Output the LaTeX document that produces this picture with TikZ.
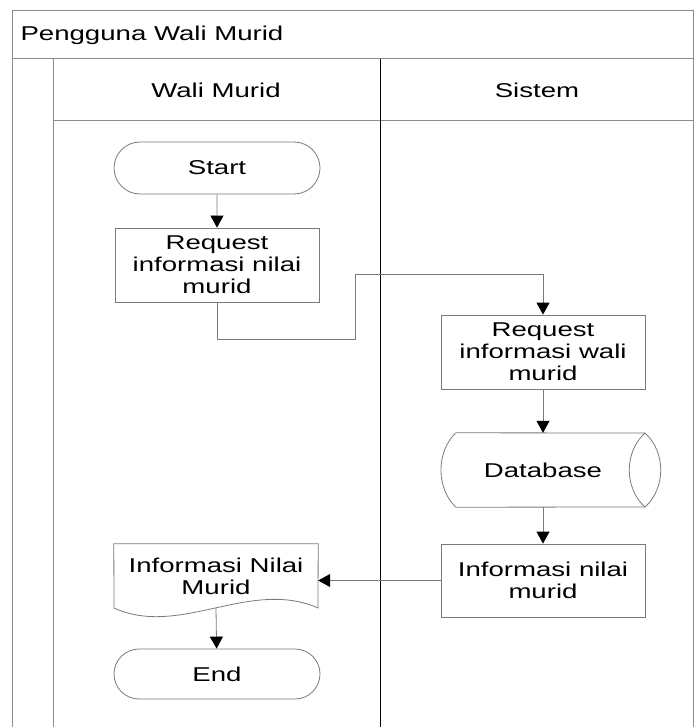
\documentclass[tikz,border=0pt]{standalone}
\usepackage{fontspec}
\setmainfont{Liberation Sans}[FakeStretch=1.38]
\usetikzlibrary{arrows.meta,shapes.misc}

\definecolor{edge}{HTML}{7A7A7A}
\definecolor{frame}{HTML}{8C8C8C}

\tikzset{
  lbl/.style={font=\fontsize{20}{22}\selectfont, align=center, text=black},
  procbox/.style={lbl, draw=edge, line width=0.8pt, fill=white,
    minimum width=204pt, minimum height=74pt, inner sep=0pt},
  terminal/.style={lbl, rounded rectangle, draw=edge, line width=0.8pt,
    minimum width=206pt, minimum height=52pt, inner sep=0pt},
  ghost/.style={lbl, minimum width=204pt, inner sep=0pt},
  flow/.style={draw=edge, line width=0.8pt,
    -{Triangle[width=13pt,length=12pt,color=black]}},
  lane/.style={draw=frame, line width=1pt},
  divider/.style={draw=black, line width=0.9pt}
}

\begin{document}
\begin{tikzpicture}[x=1pt,y=-1pt]
  \useasboundingbox (0,0) rectangle (694,727);

  % pool frame and lane grid
  \draw[lane] (12,727) -- (12,11) -- (693,11) -- (693,727);
  \draw[lane] (12,59) -- (693,59);
  \draw[lane] (53,59) -- (53,727);
  \draw[lane] (53,121) -- (693,121);
  \draw[divider] (380,59) -- (380,727);

  % headers
  \node[lbl, anchor=west] (pool) at (17,35) {Pengguna Wali Murid};
  \node[lbl] (laneA) at (216,90) {Wali Murid};
  \node[lbl] (laneB) at (537,90) {Sistem};

  % Wali Murid lane
  \node[terminal] (start) at (217,168) {Start};
  \node[procbox] (req1) at (217,265) {Request\\informasi nilai\\murid};
  \node[ghost, minimum height=64pt] (doc) at (216,576) {Informasi Nilai\\Murid};
  \node[terminal, minimum height=50pt] (end) at (217,674) {End};

  % document shape with wavy bottom
  \draw[draw=edge, line width=0.8pt]
    (doc.north west) -- (doc.north east) -- (318,608)
    .. controls (250,578) and (180,638) .. (114,608) -- cycle;

  % Sistem lane
  \node[procbox] (req2) at (543,352) {Request\\informasi wali\\murid};
  \node[ghost, minimum width=174pt, minimum height=74pt] (db) at (543,470) {Database};
  \node[procbox, minimum height=73pt] (info) at (543,580.5) {Informasi nilai\\murid};

  % direct access storage outline
  \draw[draw=edge, line width=0.8pt]
    (db.north west) -- (645,433)
    .. controls (666,452) and (666,488) .. (645,507)
    -- (db.south west)
    .. controls (436,488) and (436,452) .. (db.north west);
  \draw[draw=edge, line width=0.8pt]
    (645,433) .. controls (624,452) and (624,488) .. (645,507);

  % connectors
  \coordinate (bendA) at (355,339);
  \coordinate (bendB) at (355,274);
  \draw[flow] (start) -- (req1);
  \draw[flow] (req1.south) |- (bendA) -- (bendB) -| (req2.north);
  \draw[flow] (req2) -- (db);
  \draw[flow] (db) -- (info);
  \draw[flow] (info.west) -- (info.west -| doc.east);
  \draw[flow] (doc.south) -- (end);
\end{tikzpicture}
\end{document}
